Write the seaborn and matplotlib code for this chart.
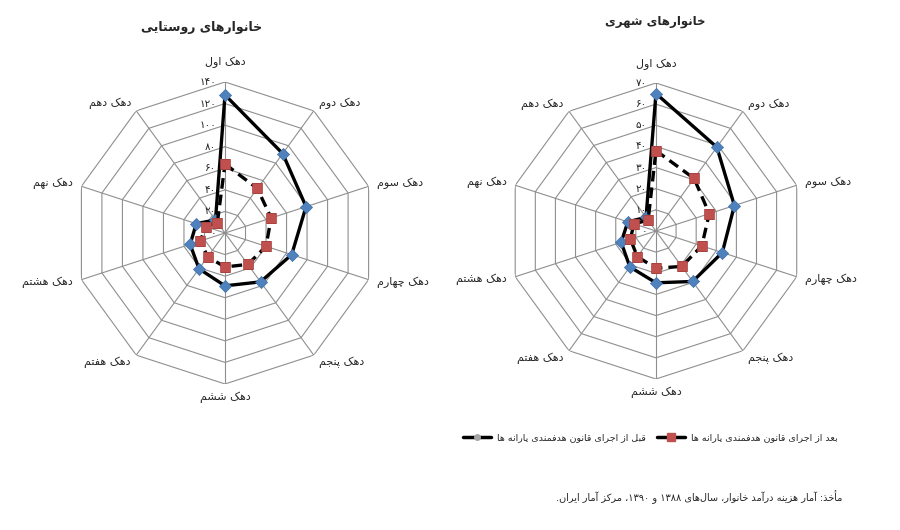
import re
import numpy as np
import matplotlib
matplotlib.use('Agg')
import matplotlib.pyplot as plt
from matplotlib.lines import Line2D
from matplotlib.transforms import offset_copy
import seaborn as sns

# data
deciles = ['دهک اول', 'دهک دوم', 'دهک سوم', 'دهک چهارم', 'دهک پنجم',
           'دهک ششم', 'دهک هفتم', 'دهک هشتم', 'دهک نهم', 'دهک دهم']
rural_before = [128, 91, 79, 65, 56, 49, 41, 34, 28, 15]
rural_after = [64, 51, 45, 40, 36, 31.5, 27.3, 24, 19, 12]
urban_before = [65, 49, 39, 33, 29.5, 24.5, 21, 17.3, 14, 8]
urban_after = [38, 30.7, 26.5, 22.8, 20.7, 17.6, 15, 12.7, 11, 6.3]
rural_ticks = [0, 20, 40, 60, 80, 100, 120, 140]
urban_ticks = [0, 10, 20, 30, 40, 50, 60, 70]

title_rural = 'خانوارهای روستایی'
title_urban = 'خانوارهای شهری'
label_before = 'قبل از اجرای قانون هدفمندی یارانه ها'
label_after = 'بعد از اجرای قانون هدفمندی یارانه ها'
source = 'مأخذ: آمار هزینه درآمد خانوار، سال\u200cهای ۱۳۸۸ و ۱۳۹۰، مرکز آمار ایران.'

# matplotlib does no arabic shaping, so pick presentation forms by hand
# (isolated, final, initial, medial); right-joining letters have no initial/medial
FORMS = {
    'ا': (0xFE8D, 0xFE8E, None, None), 'آ': (0xFE81, 0xFE82, None, None),
    'أ': (0xFE83, 0xFE84, None, None), 'د': (0xFEA9, 0xFEAA, None, None),
    'ذ': (0xFEAB, 0xFEAC, None, None), 'ر': (0xFEAD, 0xFEAE, None, None),
    'ز': (0xFEAF, 0xFEB0, None, None), 'ژ': (0xFB8A, 0xFB8B, None, None),
    'و': (0xFEED, 0xFEEE, None, None),
    'ب': (0xFE8F, 0xFE90, 0xFE91, 0xFE92), 'پ': (0xFB56, 0xFB57, 0xFB58, 0xFB59),
    'ت': (0xFE95, 0xFE96, 0xFE97, 0xFE98), 'ث': (0xFE99, 0xFE9A, 0xFE9B, 0xFE9C),
    'ج': (0xFE9D, 0xFE9E, 0xFE9F, 0xFEA0), 'چ': (0xFB7A, 0xFB7B, 0xFB7C, 0xFB7D),
    'ح': (0xFEA1, 0xFEA2, 0xFEA3, 0xFEA4), 'خ': (0xFEA5, 0xFEA6, 0xFEA7, 0xFEA8),
    'س': (0xFEB1, 0xFEB2, 0xFEB3, 0xFEB4), 'ش': (0xFEB5, 0xFEB6, 0xFEB7, 0xFEB8),
    'ص': (0xFEB9, 0xFEBA, 0xFEBB, 0xFEBC), 'ض': (0xFEBD, 0xFEBE, 0xFEBF, 0xFEC0),
    'ط': (0xFEC1, 0xFEC2, 0xFEC3, 0xFEC4), 'ظ': (0xFEC5, 0xFEC6, 0xFEC7, 0xFEC8),
    'ع': (0xFEC9, 0xFECA, 0xFECB, 0xFECC), 'غ': (0xFECD, 0xFECE, 0xFECF, 0xFED0),
    'ف': (0xFED1, 0xFED2, 0xFED3, 0xFED4), 'ق': (0xFED5, 0xFED6, 0xFED7, 0xFED8),
    'ک': (0xFB8E, 0xFB8F, 0xFB90, 0xFB91), 'گ': (0xFB92, 0xFB93, 0xFB94, 0xFB95),
    'ل': (0xFEDD, 0xFEDE, 0xFEDF, 0xFEE0), 'م': (0xFEE1, 0xFEE2, 0xFEE3, 0xFEE4),
    'ن': (0xFEE5, 0xFEE6, 0xFEE7, 0xFEE8), 'ه': (0xFEE9, 0xFEEA, 0xFEEB, 0xFEEC),
    'ی': (0xFBFC, 0xFBFD, 0xFBFE, 0xFBFF), 'ئ': (0xFE89, 0xFE8A, 0xFE8B, 0xFE8C),
}


def fa(text):
    out = []
    for i, c in enumerate(text):
        if c not in FORMS:
            out.append(c)
            continue
        prev = text[i - 1] if i > 0 else None
        nxt = text[i + 1] if i + 1 < len(text) else None
        iso, fin, ini, med = FORMS[c]
        jp = prev in FORMS and FORMS[prev][2] is not None
        jn = ini is not None and nxt in FORMS
        if jp and jn:
            g = med
        elif jp:
            g = fin
        elif jn:
            g = ini
        else:
            g = iso
        out.append(chr(g))
    s = ''.join(out).replace('\u200c', '')[::-1]
    # numbers stay left-to-right
    return re.sub('[۰-۹]+', lambda m: m.group(0)[::-1], s)


def fa_num(v):
    return str(v).translate(str.maketrans('0123456789', '۰۱۲۳۴۵۶۷۸۹'))


sns.set_style('white')
plt.rcParams['font.family'] = ['DejaVu Sans']

GRID = '#8f8f8f'
BLUE = '#4F81BD'
RED = '#C0504D'


def radar(ax, before, after, ticks, title):
    n = len(deciles)
    rmax = ticks[-1]
    theta = np.linspace(0, 2 * np.pi, n, endpoint=False)
    loop = np.append(theta, theta[0])
    ax.set_theta_offset(np.pi / 2)
    ax.set_theta_direction(-1)
    ax.set_ylim(0, rmax)
    ax.grid(False)
    ax.spines['polar'].set_visible(False)
    ax.set_xticks([])
    ax.set_yticks([])

    # polygon grid
    for r in ticks[1:]:
        ax.plot(loop, np.full(n + 1, r), color=GRID, lw=0.8, zorder=1)
    for t in theta:
        ax.plot([t, t], [0, rmax], color=GRID, lw=0.8, zorder=1)

    sns.lineplot(x=loop, y=before + before[:1], ax=ax, color='black', lw=2.4,
                 sort=False, estimator=None, zorder=3)
    sns.scatterplot(x=theta, y=before, ax=ax, marker='D', s=38, color=BLUE,
                    edgecolor='#3d6fa8', linewidth=0.5, zorder=4)
    sns.lineplot(x=loop, y=after + after[:1], ax=ax, color='black', lw=2.4,
                 linestyle=(0, (3.2, 1.8)), sort=False, estimator=None, zorder=5)
    sns.scatterplot(x=theta, y=after, ax=ax, marker='s', s=55, color=RED,
                    edgecolor='#a84340', linewidth=0.5, zorder=6)
    ax.set_xlabel('')
    ax.set_ylabel('')

    tr = offset_copy(ax.transData, fig=ax.figure, x=-9, y=0, units='dots')
    for v in ticks:
        ax.text(0, v, fa_num(v), transform=tr, ha='right', va='center',
                fontsize=7.5, color='#222222')

    for t, lab in zip(theta, deciles):
        sx = np.sin(t)
        if abs(sx) < 0.1:
            ha = 'center'
            va = 'bottom' if np.cos(t) > 0 else 'top'
            rr = rmax * 1.09 if np.cos(t) > 0 else rmax * 1.05
        else:
            ha = 'left' if sx > 0 else 'right'
            va = 'center'
            rr = rmax * 1.06
        ax.text(t, rr, fa(lab), ha=ha, va=va, fontsize=8, clip_on=False)

    text, x, y, size = title
    ax.figure.text(x, y, fa(text), ha='center', va='center',
                   fontsize=size, fontweight='bold')


fig = plt.figure(figsize=(9, 5.3), dpi=100)
ax1 = fig.add_axes([0.0822, 0.2755, 0.3356, 0.5698], projection='polar')
ax2 = fig.add_axes([0.5644, 0.2849, 0.3289, 0.5585], projection='polar')
radar(ax1, rural_before, rural_after, rural_ticks,
      (title_rural, 202 / 900, 1 - 28 / 530, 9))
radar(ax2, urban_before, urban_after, urban_ticks,
      (title_urban, 655 / 900, 1 - 21 / 530, 8.5))

handles = [
    Line2D([], [], color='black', lw=2.5, marker='o', markersize=4,
           markerfacecolor='#a6a6a6', markeredgecolor='#a6a6a6'),
    Line2D([], [], color='black', lw=2.5, marker='s', markersize=6,
           markerfacecolor=RED, markeredgecolor=RED),
]
fig.legend(handles, [fa(label_before), fa(label_after)], loc='center',
           bbox_to_anchor=(650 / 900, 1 - 438 / 530), ncol=2, frameon=False,
           fontsize=6.8, handlelength=3, columnspacing=1.2, handletextpad=0.6)

fig.text(842 / 900, 1 - 497 / 530, fa(source), ha='right', va='center', fontsize=7)

fig.savefig('out.png', dpi=100, facecolor='white')
